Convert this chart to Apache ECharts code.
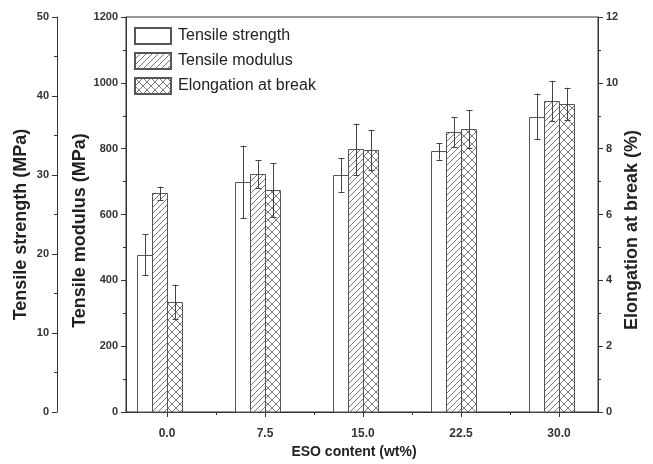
<!DOCTYPE html>
<html>
<head>
<meta charset="utf-8">
<script src="https://cdn.jsdelivr.net/npm/echarts@6.0.0/dist/echarts.min.js"></script>
<style>
html,body{margin:0;padding:0;background:#fff;}
#chart{width:653px;height:464px;}
</style>
</head>
<body>
<div id="chart"></div>
<script>
// ---- data ----
var esoContent = [0, 7.5, 15, 22.5, 30];
var xTickLabels = ['0.0', '7.5', '15.0', '22.5', '30.0'];
var tensileStrength = [19.9, 29.1, 30.0, 33.0, 37.4];
var tensileStrengthErr = [2.6, 4.6, 2.1, 1.05, 2.9];
var tensileModulus = [664, 723, 798, 851, 945];
var tensileModulusErr = [21, 42, 78, 45, 61];
var elongation = [3.35, 6.74, 7.96, 8.59, 9.36];
var elongationErr = [0.52, 0.82, 0.61, 0.57, 0.49];
var seriesNames = ['Tensile strength', 'Tensile modulus', 'Elongation at break'];

// ---- patterns ----
function hatchTile() {
  var c = document.createElement('canvas');
  c.width = 6; c.height = 6;
  var g = c.getContext('2d');
  g.fillStyle = '#fff'; g.fillRect(0, 0, 6, 6);
  g.strokeStyle = '#6a6a6a'; g.lineWidth = 0.9;
  g.beginPath();
  g.moveTo(-1, 7); g.lineTo(7, -1);
  g.moveTo(-1, 1); g.lineTo(1, -1);
  g.moveTo(5, 7); g.lineTo(7, 5);
  g.stroke();
  return c;
}
function crossTile() {
  var c = document.createElement('canvas');
  c.width = 8; c.height = 8;
  var g = c.getContext('2d');
  g.fillStyle = '#fff'; g.fillRect(0, 0, 8, 8);
  g.strokeStyle = '#6a6a6a'; g.lineWidth = 0.9;
  g.beginPath();
  g.moveTo(-1, 9); g.lineTo(9, -1);
  g.moveTo(-1, -1); g.lineTo(9, 9);
  g.stroke();
  return c;
}
var hatchPattern = { image: hatchTile(), repeat: 'repeat' };
var crossPattern = { image: crossTile(), repeat: 'repeat' };

var BAR_W = 15;
function makeRender(offset, fill) {
  return function (params, api) {
    var x = api.value(0), v = api.value(1), e = api.value(2);
    var top = api.coord([x, v]);
    var base = api.coord([x, 0]);
    var hi = api.coord([x, v + e]);
    var lo = api.coord([x, v - e]);
    var x0 = Math.round(top[0] + offset) + 0.5;
    var cx = Math.round(x0 + BAR_W / 2) + 0.5;
    return {
      type: 'group',
      children: [
        { type: 'rect', shape: { x: x0, y: Math.round(top[1]) + 0.5, width: BAR_W, height: base[1] - Math.round(top[1]) - 0.5 },
          style: { fill: fill, stroke: '#555', lineWidth: 1 } },
        { type: 'line', shape: { x1: cx, y1: hi[1], x2: cx, y2: lo[1] }, style: { stroke: '#444', lineWidth: 1 } },
        { type: 'line', shape: { x1: cx - 3, y1: Math.round(hi[1]) + 0.5, x2: cx + 3, y2: Math.round(hi[1]) + 0.5 }, style: { stroke: '#444', lineWidth: 1 } },
        { type: 'line', shape: { x1: cx - 3, y1: Math.round(lo[1]) + 0.5, x2: cx + 3, y2: Math.round(lo[1]) + 0.5 }, style: { stroke: '#444', lineWidth: 1 } }
      ]
    };
  };
}
function rows(vals, errs) {
  return esoContent.map(function (x, i) { return [x, vals[i], errs[i]]; });
}

var FONT = "'Liberation Sans', Arial, sans-serif";
var plainNum = function (v) { return String(v); };
var tickLabel = { color: '#333', fontSize: 11, fontWeight: 'bold', fontFamily: FONT };
var nameStyle = { color: '#222', fontSize: 14, fontWeight: 'bold', fontFamily: FONT };
var lineStyle = { color: '#333', width: 1 };

var X_MIN = -3.138, X_MAX = 32.985;
var minorX = [3.75, 11.25, 18.75, 26.25];

function yAxisDef(pos, offset, max, interval, name, gap, pad) {
  return {
    type: 'value', position: pos, offset: offset, min: 0, max: max, interval: interval,
    axisLine: { show: true, onZero: false, lineStyle: lineStyle },
    axisTick: { show: true, length: 5, lineStyle: lineStyle },
    minorTick: { show: true, splitNumber: 2, length: 3, lineStyle: lineStyle },
    axisLabel: Object.assign({ margin: 8, formatter: plainNum }, tickLabel),
    splitLine: { show: false }, minorSplitLine: { show: false },
    name: name, nameLocation: 'middle', nameGap: gap, nameRotate: 90, nameMoveOverlap: false,
    nameTextStyle: Object.assign({}, nameStyle, { fontSize: 18, padding: [0, pad, 0, 0] })
  };
}

var option = {
  animation: false,
  backgroundColor: '#fff',
  grid: { left: 126, right: 55, top: 17, bottom: 52, outerBoundsMode: 'none', containLabel: false,
          show: true, borderColor: '#333', borderWidth: 1, backgroundColor: 'transparent' },
  legend: {
    orient: 'vertical', left: 134, top: 27, padding: 0, itemWidth: 36, itemHeight: 16, itemGap: 7,
    icon: 'rect',
    textStyle: { color: '#222', fontSize: 16, fontFamily: FONT, padding: [0, 0, 0, 2] },
    data: seriesNames
  },
  xAxis: [
    {
      type: 'value', min: X_MIN, max: X_MAX, position: 'bottom',
      axisLine: { show: true, onZero: false, lineStyle: lineStyle },
      axisTick: { show: true, customValues: esoContent, length: 5, lineStyle: lineStyle },
      axisLabel: Object.assign({}, tickLabel, { fontSize: 12, customValues: esoContent, margin: 16, formatter: function (v) {
        var i = esoContent.indexOf(v); return i >= 0 ? xTickLabels[i] : '';
      } }),
      splitLine: { show: false },
      name: 'ESO content (wt%)', nameLocation: 'middle', nameGap: 33, nameMoveOverlap: false,
      nameTextStyle: Object.assign({ padding: [0, 16, 0, 0] }, nameStyle)
    },
    {
      type: 'value', min: X_MIN, max: X_MAX, position: 'bottom',
      axisLine: { show: false, onZero: false },
      axisTick: { show: true, inside: true, customValues: esoContent, length: 4, lineStyle: lineStyle },
      axisLabel: { show: false }, splitLine: { show: false }
    },
    {
      type: 'value', min: X_MIN, max: X_MAX, position: 'bottom',
      axisLine: { show: false, onZero: false },
      axisTick: { show: true, customValues: minorX, length: 3, lineStyle: lineStyle },
      axisLabel: { show: false }, splitLine: { show: false }
    }
  ],
  yAxis: [
    yAxisDef('left', 69, 50, 10, 'Tensile strength (MPa)', 27, 20),
    yAxisDef('left', 0, 1200, 200, 'Tensile modulus (MPa)', 37, 32),
    yAxisDef('right', 0, 12, 2, 'Elongation at break (%)', 25, 31)
  ],
  series: [
    {
      name: seriesNames[0], type: 'custom', xAxisIndex: 0, yAxisIndex: 0,
      itemStyle: { color: '#fff', borderColor: '#555', borderWidth: 1 },
      encode: { x: 0, y: 1 },
      renderItem: makeRender(-30, '#fff'),
      data: rows(tensileStrength, tensileStrengthErr)
    },
    {
      name: seriesNames[1], type: 'custom', xAxisIndex: 0, yAxisIndex: 1,
      itemStyle: { color: hatchPattern, borderColor: '#555', borderWidth: 1 },
      encode: { x: 0, y: 1 },
      renderItem: makeRender(-15, hatchPattern),
      data: rows(tensileModulus, tensileModulusErr)
    },
    {
      name: seriesNames[2], type: 'custom', xAxisIndex: 0, yAxisIndex: 2,
      itemStyle: { color: crossPattern, borderColor: '#555', borderWidth: 1 },
      encode: { x: 0, y: 1 },
      renderItem: makeRender(0, crossPattern),
      data: rows(elongation, elongationErr)
    }
  ]
};
var chart = echarts.init(document.getElementById('chart'), null, { renderer: 'canvas' });
chart.setOption(option);
</script>
</body>
</html>
